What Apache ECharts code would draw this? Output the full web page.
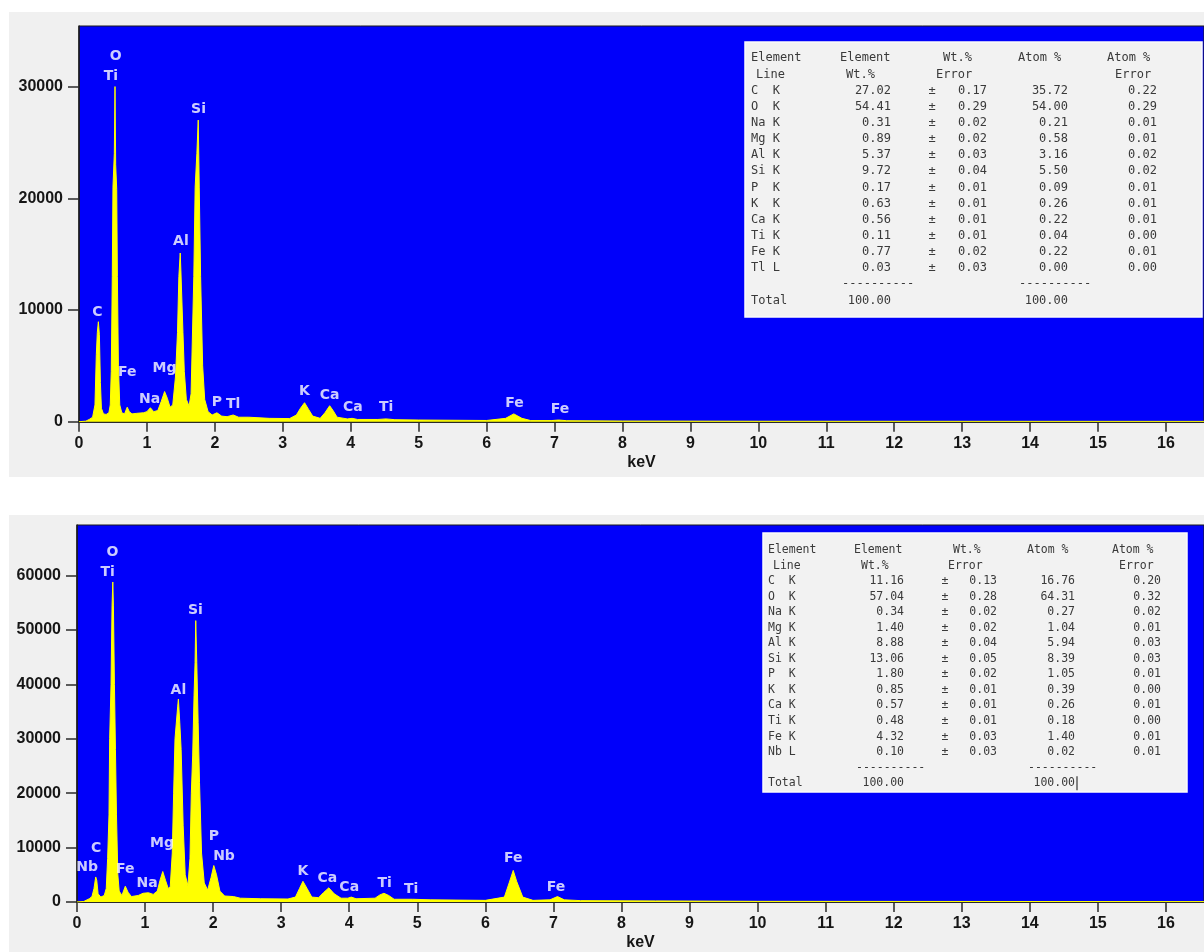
<!DOCTYPE html>
<html><head><meta charset="utf-8">
<script src="https://cdn.jsdelivr.net/npm/echarts@6/dist/echarts.min.js"></script>
<style>
html,body{margin:0;padding:0;background:#ffffff;width:1204px;height:952px;overflow:hidden;position:relative}
.panel{position:absolute;background:#f0f0f0}
#chart{position:absolute;left:0;top:0;width:1204px;height:952px}
</style></head>
<body>
<div class="panel" style="left:9px;top:12px;width:1195px;height:465px"></div>
<div class="panel" style="left:9px;top:515px;width:1195px;height:437px"></div>
<div id="chart"></div>
<script>
// ---------- DATA ----------
const xTicks = [0,1,2,3,4,5,6,7,8,9,10,11,12,13,14,15,16];
const yTicks1 = [0,10000,20000,30000];
const yTicks2 = [0,10000,20000,30000,40000,50000,60000];

// spectrum 1: [keV, counts]
const spectrum1 = [
 [0,0],[0.10,50],[0.15,200],[0.20,400],[0.235,1500],[0.255,6000],[0.27,8000],[0.285,8950],[0.30,7800],[0.315,3500],
 [0.33,1200],[0.36,700],[0.40,650],[0.44,800],[0.46,1500],[0.475,4500],[0.49,13000],[0.50,21000],[0.52,24000],[0.53,30000],
 [0.54,23000],[0.555,20800],[0.565,13000],[0.58,5000],[0.60,1500],[0.63,800],[0.67,700],[0.71,1300],[0.74,900],[0.78,700],
 [0.85,750],[0.95,800],[1.00,900],[1.05,1250],[1.10,900],[1.16,1000],[1.21,1800],[1.26,2700],[1.30,2100],[1.34,1300],
 [1.38,1500],[1.42,4000],[1.45,8000],[1.47,13000],[1.49,15100],[1.50,13500],[1.53,8000],[1.55,4500],[1.58,2000],[1.62,1400],
 [1.65,2500],[1.69,13000],[1.71,21000],[1.735,24000],[1.755,27000],[1.77,21000],[1.79,13000],[1.82,5000],[1.85,2000],[1.90,900],
 [1.96,600],[2.03,800],[2.10,500],[2.18,450],[2.27,600],[2.35,400],[2.50,400],[2.80,300],[3.10,280],[3.20,600],
 [3.26,1200],[3.32,1700],[3.38,1100],[3.44,500],[3.55,300],[3.62,800],[3.69,1430],[3.74,1000],[3.80,400],[3.95,250],
 [4.02,300],[4.10,200],[4.40,200],[4.52,250],[4.65,180],[5.00,150],[6.00,110],[6.28,300],[6.40,700],[6.52,300],
 [6.65,100],[6.95,100],[7.06,150],[7.18,90],[8.00,60],[10.00,40],[20.00,20]
];
const peaks1Names = ['O','Ti','Si','Al','C','Fe','Mg','Na','P','Tl','K','Ca','Ca','Ti','Fe','Fe'];
const peaks1Kev   = [0.54,0.47,1.76,1.50,0.27,0.71,1.26,1.04,2.03,2.27,3.32,3.69,4.03,4.52,6.41,7.08];
const peaks1Count = [32710,30920,27970,16160,9810,4450,4800,2030,1760,1590,2750,2390,1310,1310,1670,1140];

// spectrum 2: [keV, counts]
const spectrum2 = [
 [0,0],[0.10,100],[0.18,600],[0.22,1000],[0.25,2500],[0.275,4600],[0.29,4000],[0.31,1500],[0.35,900],[0.40,1200],
 [0.43,2500],[0.45,8000],[0.47,16000],[0.48,30000],[0.50,40000],[0.515,54400],[0.526,58800],[0.535,54400],[0.55,40000],[0.565,28000],
 [0.58,16000],[0.60,5000],[0.62,2000],[0.66,1200],[0.71,2900],[0.75,1800],[0.80,1000],[0.90,1200],[0.97,1600],[1.05,1700],
 [1.12,1400],[1.18,2000],[1.22,4000],[1.26,5600],[1.30,4000],[1.34,2500],[1.37,2800],[1.40,9000],[1.42,20000],[1.44,30000],
 [1.48,36000],[1.49,37300],[1.51,33000],[1.53,28000],[1.56,14000],[1.59,5000],[1.63,3000],[1.66,8000],[1.68,20000],[1.70,27000],
 [1.72,38000],[1.735,44000],[1.745,51700],[1.76,44000],[1.78,33000],[1.80,22000],[1.83,9000],[1.87,3500],[1.92,2200],[1.97,4500],
 [2.01,6700],[2.05,5000],[2.10,2000],[2.17,1100],[2.30,1000],[2.40,700],[2.70,600],[3.10,550],[3.21,900],[3.27,2500],
 [3.32,3800],[3.38,2500],[3.45,900],[3.55,800],[3.62,1700],[3.70,2600],[3.78,1500],[3.88,700],[3.98,700],[4.03,900],
 [4.10,600],[4.38,700],[4.45,1300],[4.51,1600],[4.58,1200],[4.66,500],[4.93,500],[5.20,400],[6.00,300],[6.28,900],
 [6.35,3500],[6.41,5800],[6.46,3800],[6.55,900],[6.70,300],[6.95,400],[7.06,1000],[7.16,400],[7.40,250],[8.50,200],
 [10.00,120],[20.00,50]
];
const peaks2Names = ['O','Ti','Si','Al','Mg','C','Nb','Fe','Na','P','Nb','K','Ca','Ca','Ti','Ti','Fe','Fe'];
const peaks2Kev   = [0.52,0.45,1.74,1.49,1.25,0.28,0.15,0.71,1.03,2.01,2.16,3.32,3.68,4.00,4.52,4.91,6.41,7.04];
const peaks2Count = [64180,60550,53640,38910,10730,9820,6360,6000,3450,12000,8360,5640,4360,2730,3450,2360,8000,2730];

// tables
const tableHeader1 = ['Element','Element','Wt.%','Atom %','Atom %'];
const tableHeader2 = ['Line','Wt.%','Error','Error'];
const table1Lines   = ['C  K','O  K','Na K','Mg K','Al K','Si K','P  K','K  K','Ca K','Ti K','Fe K','Tl L'];
const table1Wt      = ['27.02','54.41','0.31','0.89','5.37','9.72','0.17','0.63','0.56','0.11','0.77','0.03'];
const table1WtErr   = ['0.17','0.29','0.02','0.02','0.03','0.04','0.01','0.01','0.01','0.01','0.02','0.03'];
const table1Atom    = ['35.72','54.00','0.21','0.58','3.16','5.50','0.09','0.26','0.22','0.04','0.22','0.00'];
const table1AtomErr = ['0.22','0.29','0.01','0.01','0.02','0.02','0.01','0.01','0.01','0.00','0.01','0.00'];
const table2Lines   = ['C  K','O  K','Na K','Mg K','Al K','Si K','P  K','K  K','Ca K','Ti K','Fe K','Nb L'];
const table2Wt      = ['11.16','57.04','0.34','1.40','8.88','13.06','1.80','0.85','0.57','0.48','4.32','0.10'];
const table2WtErr   = ['0.13','0.28','0.02','0.02','0.04','0.05','0.02','0.01','0.01','0.01','0.03','0.03'];
const table2Atom    = ['16.76','64.31','0.27','1.04','5.94','8.39','1.05','0.39','0.26','0.18','1.40','0.02'];
const table2AtomErr = ['0.20','0.32','0.02','0.01','0.03','0.03','0.01','0.00','0.01','0.00','0.01','0.01'];
const totalLabel = 'Total';
const totalWt = '100.00';
const totalAtom = '100.00';
const dashes = '----------';

// ---------- LAYOUT ----------
const X_MAX = 16.56;
const BLUE = '#0000fa';
const YEL = '#ffff00';
const AX_FONT = {fontFamily:'Liberation Sans', fontWeight:'bold', fontSize:16, color:'#161616'};

function xAxisCfg(gi){
  return {type:'value', gridIndex:gi, min:0, max:X_MAX, name:'keV', nameLocation:'middle', nameGap:33,
    nameTextStyle:Object.assign({}, AX_FONT),
    axisLine:{show:true, onZero:false, lineStyle:{color:'#2a2a2a', width:2}},
    axisTick:{show:true, length:10, customValues:xTicks, lineStyle:{color:'#2a2a2a', width:1.5}},
    axisLabel:Object.assign({customValues:xTicks, margin:14, formatter:v=>String(v)}, AX_FONT),
    splitLine:{show:false}};
}
function yAxisCfg(gi, max, ticks){
  return {type:'value', gridIndex:gi, min:0, max:max,
    axisLine:{show:true, onZero:false, lineStyle:{color:'#1a1a1a', width:1.5}},
    axisTick:{show:true, length:11, customValues:ticks, lineStyle:{color:'#2a2a2a', width:1.5}},
    axisLabel:Object.assign({customValues:ticks, margin:16, formatter:v=>String(v)}, AX_FONT),
    splitLine:{show:false}};
}
function specSeries(i, data){
  return {type:'line', xAxisIndex:i, yAxisIndex:i, data:data, showSymbol:false, symbol:'none',
    lineStyle:{color:YEL, width:1}, areaStyle:{color:YEL, opacity:1}, silent:true, clip:true, z:2};
}
function labelSeries(i, names, kev, cnt){
  return {type:'scatter', xAxisIndex:i, yAxisIndex:i, symbolSize:1, itemStyle:{color:'rgba(0,0,0,0)'},
    silent:true, z:5,
    label:{show:true, position:'inside', formatter:p=>p.name, color:'#ffffff',
      fontFamily:'DejaVu Sans', fontWeight:'bold', fontSize:14},
    data:names.map((n,k)=>({name:n, value:[kev[k], cnt[k]]}))};
}

function tableGraphic(L, lines, wt, werr, atom, aerr){
  const els = [];
  const font = L.font + 'px "DejaVu Sans Mono"';
  const col = '#3a3a3a';
  const t = (x, y, s, align) => els.push({type:'text', x:x, y:y, z:101, silent:true,
    style:{text:s, font:font, fill:col, align:align||'left', verticalAlign:'middle'}});
  els.push({type:'rect', z:100, silent:true, shape:{x:L.box[0], y:L.box[1], width:L.box[2], height:L.box[3]},
    style:{fill:'#f2f2f2', stroke:'#fbfbfb', lineWidth:1.5}});
  const yAt = k => L.y0 + k*L.dy;
  tableHeader1.forEach((s,k)=>t(L.hdr[k], yAt(0), s));
  tableHeader2.forEach((s,k)=>t(L.hdr2[k], yAt(1), s));
  lines.forEach((s,k)=>{
    const y = yAt(k+2);
    t(L.labelX, y, s);
    t(L.wtR, y, wt[k], 'right');
    t(L.pmX, y, '±', 'center');
    t(L.errR, y, werr[k], 'right');
    t(L.atomR, y, atom[k], 'right');
    t(L.aerrR, y, aerr[k], 'right');
  });
  t(L.dash[0], yAt(14), dashes);
  t(L.dash[1], yAt(14), dashes);
  t(L.labelX, yAt(15), totalLabel);
  t(L.wtR, yAt(15), totalWt, 'right');
  t(L.atomR, yAt(15), totalAtom, 'right');
  if (L.cursor) els.push({type:'line', z:101, silent:true,
    shape:{x1:L.cursor, y1:yAt(15)-7, x2:L.cursor, y2:yAt(15)+7}, style:{stroke:'#111', lineWidth:1}});
  return els;
}

const T1 = {box:[745,42,457,275], y0:58.3, dy:16.14, font:12, labelX:751,
  hdr:[751,840,943,1018,1107], hdr2:[756,846,936,1115],
  wtR:891, pmX:932, errR:987, atomR:1068, aerrR:1157, dash:[842,1019]};
const T2 = {box:[763,533,424,259], y0:550, dy:15.55, font:11.5, labelX:768,
  hdr:[768,854,953,1027,1112], hdr2:[773,861,948,1119],
  wtR:904, pmX:945, errR:997, atomR:1075, aerrR:1161, dash:[856,1028], cursor:1077};

const chart = echarts.init(document.getElementById('chart'), null, {renderer:'canvas', width:1204, height:952});
chart.setOption({
  animation:false,
  backgroundColor:'transparent',
  grid:[
    {left:79, top:26, width:X_MAX*70.5, height:395.7, show:true, backgroundColor:BLUE, borderColor:'#1a1a1a', borderWidth:1},
    {left:77, top:525, width:X_MAX*69, height:381, show:true, backgroundColor:BLUE, borderColor:'#1a1a1a', borderWidth:1}
  ],
  xAxis:[xAxisCfg(0), xAxisCfg(1)],
  yAxis:[yAxisCfg(0, 35420, yTicks1), yAxisCfg(1, 69270, yTicks2)],
  series:[
    specSeries(0, spectrum1),
    specSeries(1, spectrum2),
    labelSeries(0, peaks1Names, peaks1Kev, peaks1Count),
    labelSeries(1, peaks2Names, peaks2Kev, peaks2Count)
  ],
  graphic:[].concat(
    tableGraphic(T1, table1Lines, table1Wt, table1WtErr, table1Atom, table1AtomErr),
    tableGraphic(T2, table2Lines, table2Wt, table2WtErr, table2Atom, table2AtomErr)
  )
});
</script>
</body></html>
